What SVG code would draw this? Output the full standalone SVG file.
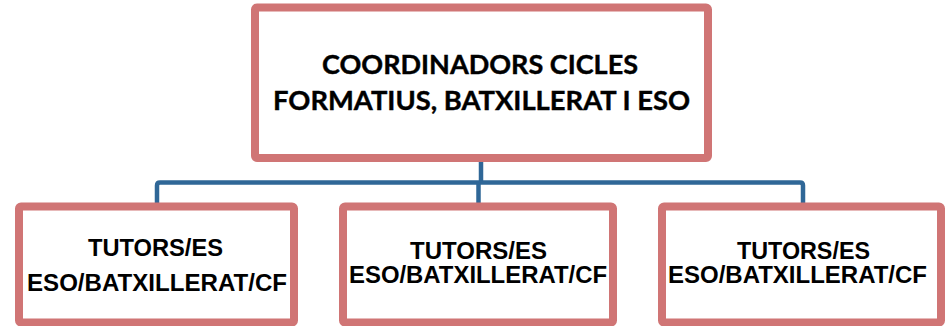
<svg xmlns="http://www.w3.org/2000/svg" width="946" height="326" viewBox="0 0 946 326">
<style>
.box{fill:#ffffff;stroke:#D07575;stroke-width:8;}
.conn{fill:none;stroke:#2F6797;stroke-width:4.5;stroke-linejoin:round;}
.t1{font-family:Lato,"Liberation Sans",sans-serif;font-weight:bold;font-size:27px;fill:#000;text-anchor:middle;stroke:#000;stroke-width:0.4;}
.t2{font-family:"Liberation Sans",Arial,sans-serif;font-weight:bold;font-size:23px;fill:#000;text-anchor:middle;}
</style>
<rect width="946" height="326" fill="#ffffff"/>
<g id="connectors">
<path class="conn" d="M481,160 V182.5"/>
<path class="conn" d="M157,206 V185.5 Q157,182.5 160,182.5 H800 Q803,182.5 803,185.5 V206"/>
<path class="conn" d="M478.5,182.5 V206"/>
</g>
<g id="top">
<rect class="box" x="255" y="7.5" width="453" height="150.5" rx="2"/>
<text class="t1" x="480" y="74" textLength="316" lengthAdjust="spacingAndGlyphs">COORDINADORS CICLES</text>
<text class="t1" x="481.5" y="110" textLength="417" lengthAdjust="spacingAndGlyphs">FORMATIUS, BATXILLERAT I ESO</text>
</g>
<g id="child1">
<rect class="box" x="19" y="206.5" width="275" height="116" rx="2"/>
<text class="t2" x="155.5" y="255.5" textLength="135" lengthAdjust="spacingAndGlyphs">TUTORS/ES</text>
<text class="t2" x="157" y="290.5" textLength="260" lengthAdjust="spacingAndGlyphs">ESO/BATXILLERAT/CF</text>
</g>
<g id="child2">
<rect class="box" x="343" y="206.5" width="270" height="116" rx="2"/>
<text class="t2" x="478.5" y="259" textLength="137" lengthAdjust="spacingAndGlyphs">TUTORS/ES</text>
<text class="t2" x="478" y="283" textLength="258" lengthAdjust="spacingAndGlyphs">ESO/BATXILLERAT/CF</text>
</g>
<g id="child3">
<rect class="box" x="662" y="206.5" width="279" height="116" rx="2"/>
<text class="t2" x="803.5" y="259" textLength="133" lengthAdjust="spacingAndGlyphs">TUTORS/ES</text>
<text class="t2" x="797.5" y="283" textLength="259" lengthAdjust="spacingAndGlyphs">ESO/BATXILLERAT/CF</text>
</g>
</svg>
